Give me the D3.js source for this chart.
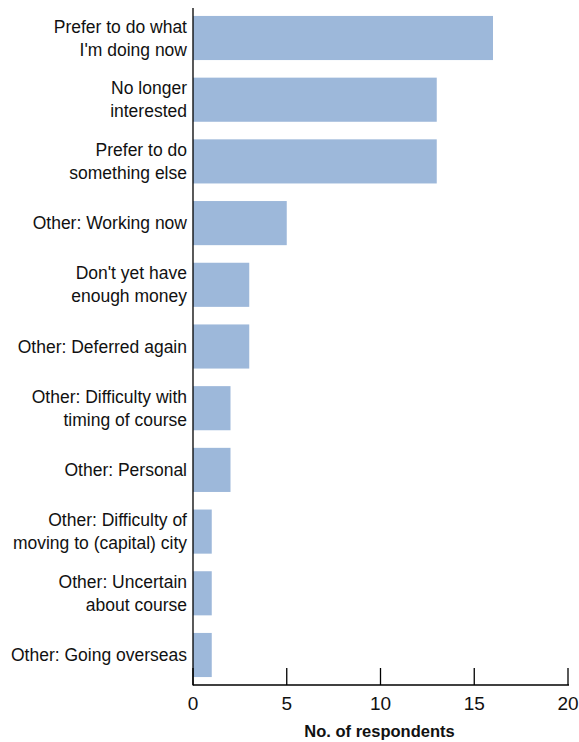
<!DOCTYPE html>
<html><head><meta charset="utf-8">
<script src="https://cdn.jsdelivr.net/npm/d3@7"></script>
<style>body{margin:0;background:#fff}svg{display:block}</style>
</head><body><svg id="c" width="579" height="742"></svg>
<script>
const categories = [
  ["Prefer to do what","I'm doing now"],
  ["No longer","interested"],
  ["Prefer to do","something else"],
  ["Other: Working now"],
  ["Don't yet have","enough money"],
  ["Other: Deferred again"],
  ["Other: Difficulty with","timing of course"],
  ["Other: Personal"],
  ["Other: Difficulty of","moving to (capital) city"],
  ["Other: Uncertain","about course"],
  ["Other: Going overseas"]
];
const values = [16, 13, 13, 5, 3, 3, 2, 2, 1, 1, 1];
const xTicks = [0, 5, 10, 15, 20];
const xTitle = "No. of respondents";

const font = "'Liberation Sans Narrow','Arial Narrow',sans-serif";
const svg = d3.select("#c");
const x = d3.scaleLinear().domain([0, 20]).range([193, 568]);
const y = d3.scaleBand().domain(d3.range(categories.length)).range([7, 686]).paddingInner(0.285).paddingOuter(0.145);

svg.append("g").selectAll("rect").data(values).join("rect")
  .attr("x", x(0)).attr("y", (d,i)=>y(i))
  .attr("width", d=>x(d)-x(0)).attr("height", y.bandwidth())
  .attr("fill", "#9db8da");

// axis
const ax = svg.append("g").attr("transform","translate(0,685)");
ax.append("line").attr("x1",x(0)).attr("x2",x(20)+1).attr("stroke","#000").attr("stroke-width",1.3);
ax.selectAll("line.t").data(xTicks).join("line").attr("class","t")
  .attr("x1",d=>x(d)).attr("x2",d=>x(d)).attr("y1",0).attr("y2",-17)
  .attr("stroke","#000").attr("stroke-width",1.3);
ax.selectAll("text").data(xTicks).join("text")
  .attr("x",d=>x(d)).attr("y",25).attr("text-anchor","middle")
  .attr("font-family",font).attr("font-size",19).attr("fill","#111").text(d=>d);
svg.append("line").attr("x1",x(0)).attr("x2",x(0)).attr("y1",8).attr("y2",685.6)
  .attr("stroke","#000").attr("stroke-width",1.3);

svg.append("text").attr("x",(x(0)+x(20))/2 - 1).attr("y",737).attr("text-anchor","middle")
  .attr("font-family",font).attr("font-size",16.5).attr("font-weight","bold").attr("fill","#111").text(xTitle);

// labels
const lg = svg.append("g");
categories.forEach((lines,i)=>{
  const cy = y(i)+y.bandwidth()/2;
  const lh = 23;
  const t = lg.append("text").attr("text-anchor","end")
    .attr("font-family",font).attr("font-size",17.5).attr("fill","#111");
  lines.forEach((l,j)=>{
    t.append("tspan").attr("x",187).attr("y", cy + (j-(lines.length-1)/2)*lh + 6).text(l);
  });
});
</script></body></html>
